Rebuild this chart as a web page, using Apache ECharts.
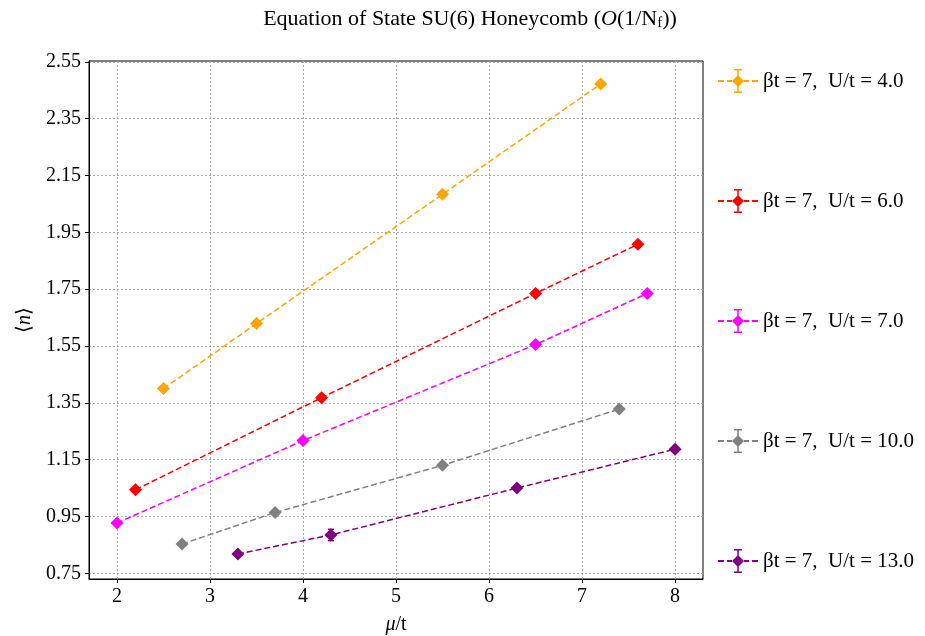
<!DOCTYPE html>
<html>
<head>
<meta charset="utf-8">
<script src="https://cdn.jsdelivr.net/npm/echarts@6/dist/echarts.min.js"></script>
<style>
  html, body { margin: 0; padding: 0; background: #fff; }
  #main { width: 925px; height: 636px; }
</style>
</head>
<body>
<div id="main"></div>
<script>
// 数据：μ/t 与 <n>，每条曲线单独一组
const seriesNames = ['βt = 7,  U/t = 4.0', 'βt = 7,  U/t = 6.0', 'βt = 7,  U/t = 7.0', 'βt = 7,  U/t = 10.0', 'βt = 7,  U/t = 13.0'];
const seriesColors = ['#FFA500', '#FF0000', '#FF00FF', '#808080', '#800080'];

const muU4 = [2.5, 3.5, 5.5, 7.2];
const nU4 = [1.400, 1.629, 2.084, 2.472];
const errU4 = [0.004, 0.004, 0.004, 0.004];

const muU6 = [2.2, 4.2, 6.5, 7.6];
const nU6 = [1.044, 1.368, 1.735, 1.908];
const errU6 = [0.004, 0.005, 0.004, 0.004];

const muU7 = [2.0, 4.0, 6.5, 7.7];
const nU7 = [0.927, 1.217, 1.555, 1.735];
const errU7 = [0.004, 0.004, 0.004, 0.004];

const muU10 = [2.7, 3.7, 5.5, 7.4];
const nU10 = [0.853, 0.964, 1.130, 1.328];
const errU10 = [0.004, 0.004, 0.005, 0.004];

const muU13 = [3.3, 4.3, 6.3, 8.0];
const nU13 = [0.818, 0.885, 1.050, 1.187];
const errU13 = [0.004, 0.020, 0.006, 0.004];

const xTicks = [2, 3, 4, 5, 6, 7, 8];
const yTicks = [0.75, 0.95, 1.15, 1.35, 1.55, 1.75, 1.95, 2.15, 2.35, 2.55];

const allMu = [muU4, muU6, muU7, muU10, muU13];
const allN = [nU4, nU6, nU7, nU10, nU13];
const allErr = [errU4, errU6, errU7, errU10, errU13];

const serif = 'Liberation Serif';

// 图例图标：虚线 + 菱形 + 误差棒
const legendIcon = 'path://M0 11h6v2h-6Z M9 11h5v2h-5Z M26 11h5v2h-5Z M34 11h6v2h-6Z ' +
  'M19.25 0h1.5v24h-1.5Z M16 0h8v1.5h-8Z M16 22.5h8v1.5h-8Z M20 6L26 12L20 18L14 12Z';

function renderErr(params, api) {
  const x = api.value(0), y = api.value(1), e = api.value(2);
  const top = api.coord([x, y + e]);
  const bot = api.coord([x, y - e]);
  const color = api.visual('color');
  const st = { stroke: color, lineWidth: 1.5 };
  return {
    type: 'group',
    children: [
      { type: 'line', shape: { x1: top[0], y1: top[1], x2: bot[0], y2: bot[1] }, style: st },
      { type: 'line', shape: { x1: top[0] - 3, y1: top[1], x2: top[0] + 3, y2: top[1] }, style: st },
      { type: 'line', shape: { x1: bot[0] - 3, y1: bot[1], x2: bot[0] + 3, y2: bot[1] }, style: st }
    ]
  };
}

const series = [];
seriesNames.forEach(function (name, i) {
  const mu = allMu[i], n = allN[i], err = allErr[i];
  series.push({
    name: name,
    type: 'custom',
    renderItem: renderErr,
    itemStyle: { color: seriesColors[i] },
    data: mu.map(function (x, j) { return [x, n[j], err[j]]; }),
    z: 3
  });
  series.push({
    name: name,
    type: 'line',
    symbol: 'diamond',
    symbolSize: 13,
    showSymbol: true,
    color: seriesColors[i],
    lineStyle: { color: seriesColors[i], width: 1.5, type: [6, 3] },
    itemStyle: { color: seriesColors[i] },
    data: mu.map(function (x, j) { return [x, n[j]]; }),
    z: 4
  });
});

const myEcharts = echarts.init(document.getElementById('main'));
const option = {
  animation: false,
  backgroundColor: '#fff',
  title: {
    text: 'Equation of State SU(6) Honeycomb ({o|O}(1/N{sub|f}))',
    left: 465,
    textAlign: 'center',
    top: 3,
    textStyle: {
      fontFamily: serif,
      fontSize: 22,
      fontWeight: 'normal',
      color: '#000',
      rich: {
        o: { fontFamily: serif, fontSize: 22, fontStyle: 'italic', color: '#000' },
        sub: { fontFamily: serif, fontSize: 15, color: '#000', verticalAlign: 'bottom', padding: [8, 0, 0, 0] }
      }
    }
  },
  legend: {
    orient: 'vertical',
    left: 713,
    top: 64,
    itemWidth: 40,
    itemHeight: 24,
    itemGap: 96,
    textStyle: { fontFamily: serif, fontSize: 21, color: '#000' },
    data: seriesNames.map(function (name) { return { name: name, icon: legendIcon }; })
  },
  grid: {
    left: 89,
    top: 61,
    right: 222,
    bottom: 57,
    outerBoundsMode: 'none',
    show: true,
    borderColor: '#000',
    borderWidth: 1
  },
  xAxis: {
    type: 'value',
    min: 1.7,
    max: 8.3,
    name: '{i|μ}/t',
    nameLocation: 'middle',
    nameGap: 36,
    nameTextStyle: {
      fontFamily: serif, fontSize: 20, color: '#000',
      rich: { i: { fontFamily: serif, fontSize: 20, fontStyle: 'italic', color: '#000' } }
    },
    axisLine: { lineStyle: { color: '#000', width: 1 } },
    axisTick: { show: true, inside: false, length: 4, customValues: xTicks, lineStyle: { color: '#000' } },
    axisLabel: { customValues: xTicks, fontFamily: serif, fontSize: 20, color: '#000', margin: 8 },
    splitLine: { show: true, lineStyle: { color: '#aaa', type: [2, 2], width: 1 } }
  },
  yAxis: {
    type: 'value',
    min: 0.73,
    max: 2.553,
    name: '⟨{i|n}⟩',
    nameLocation: 'middle',
    nameGap: 54,
    nameRotate: 90,
    nameTextStyle: {
      fontFamily: serif, fontSize: 20, color: '#000',
      rich: { i: { fontFamily: serif, fontSize: 20, fontStyle: 'italic', color: '#000' } }
    },
    axisLine: { show: true, lineStyle: { color: '#000', width: 1 } },
    axisTick: { show: true, inside: false, length: 4, customValues: yTicks, lineStyle: { color: '#000' } },
    axisLabel: {
      customValues: yTicks, fontFamily: serif, fontSize: 20, color: '#000', margin: 8,
      formatter: function (v) { return v.toFixed(2); }
    },
    splitLine: { show: true, lineStyle: { color: '#aaa', type: [2, 2], width: 1 } }
  },
  series: series
};
myEcharts.setOption(option);
</script>
</body>
</html>
